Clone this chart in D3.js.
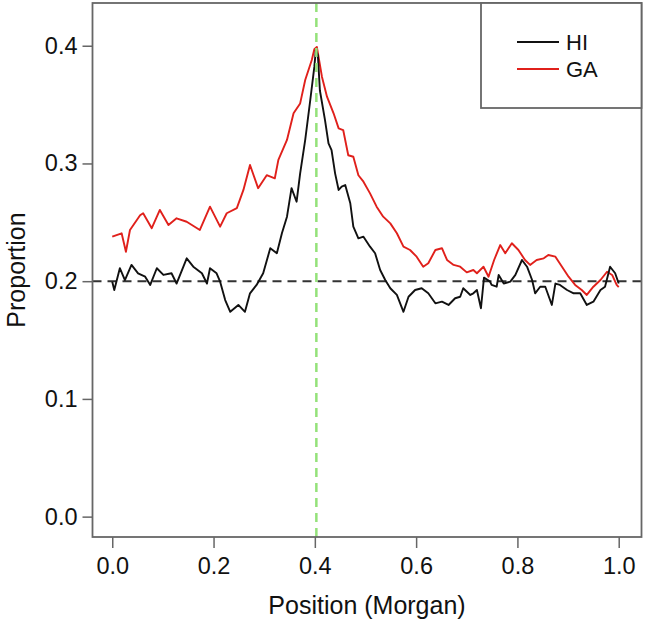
<!DOCTYPE html>
<html>
<head>
<meta charset="utf-8">
<script src="https://cdn.jsdelivr.net/npm/d3@7"></script>
<style>
  body { margin: 0; background: #fff; }
  svg text { font-family: "Liberation Sans", Arial, sans-serif; fill: #111; }
</style>
</head>
<body>
<div id="chart"></div>
<script>
// HI series (position in Morgan, proportion)
const hiPos = [0.000, 0.004, 0.015, 0.025, 0.038, 0.051, 0.065, 0.075, 0.088, 0.101,
    0.117, 0.127, 0.147, 0.160, 0.177, 0.187, 0.193, 0.206, 0.213, 0.223,
    0.233, 0.249, 0.262, 0.272, 0.285, 0.298, 0.312, 0.325, 0.335, 0.345,
    0.354, 0.364, 0.371, 0.381, 0.391, 0.399, 0.402, 0.406, 0.410, 0.420,
    0.427, 0.433, 0.440, 0.447, 0.453, 0.460, 0.470, 0.476, 0.486, 0.496,
    0.509, 0.519, 0.529, 0.539, 0.549, 0.562, 0.575, 0.585, 0.598, 0.611,
    0.624, 0.638, 0.651, 0.664, 0.677, 0.687, 0.693, 0.707, 0.713, 0.720,
    0.728, 0.734, 0.746, 0.749, 0.759, 0.763, 0.773, 0.786, 0.796, 0.809,
    0.819, 0.829, 0.835, 0.845, 0.855, 0.868, 0.875, 0.884, 0.898, 0.911,
    0.924, 0.937, 0.950, 0.964, 0.973, 0.983, 0.993, 1.000];
const hiVal = [0.1996, 0.1925, 0.211, 0.201, 0.2138, 0.2067, 0.2038, 0.1968, 0.211, 0.2053,
    0.2067, 0.198, 0.2194, 0.2123, 0.2067, 0.198, 0.211, 0.2067, 0.1996, 0.184,
    0.174, 0.1798, 0.174, 0.1897, 0.1968, 0.2067, 0.228, 0.2237, 0.2407, 0.2548,
    0.279, 0.2675, 0.2916, 0.320, 0.3539, 0.382, 0.3963, 0.392, 0.362, 0.337,
    0.317, 0.3114, 0.2916, 0.2775, 0.2803, 0.2817, 0.2662, 0.2463, 0.2364, 0.2378,
    0.2293, 0.2237, 0.2095, 0.201, 0.194, 0.1883, 0.174, 0.1868, 0.1925, 0.194,
    0.1897, 0.1812, 0.1826, 0.1798, 0.1855, 0.1868, 0.194, 0.1883, 0.1897, 0.1925,
    0.177, 0.203, 0.1996, 0.1968, 0.1953, 0.2053, 0.198, 0.1996, 0.2053, 0.218,
    0.2123, 0.201, 0.1897, 0.1953, 0.1953, 0.1798, 0.198, 0.1968, 0.1925, 0.1897,
    0.1897, 0.1798, 0.1826, 0.1925, 0.1953, 0.2123, 0.2067, 0.198];

// GA series
const gaPos = [0.000, 0.0185, 0.027, 0.035, 0.055, 0.061, 0.078, 0.094, 0.111, 0.127,
    0.147, 0.173, 0.193, 0.213, 0.226, 0.246, 0.259, 0.272, 0.288, 0.305,
    0.321, 0.328, 0.345, 0.358, 0.371, 0.381, 0.394, 0.399, 0.404, 0.414,
    0.424, 0.437, 0.447, 0.456, 0.466, 0.476, 0.486, 0.496, 0.509, 0.522,
    0.535, 0.549, 0.562, 0.575, 0.588, 0.601, 0.614, 0.624, 0.638, 0.651,
    0.661, 0.674, 0.687, 0.700, 0.713, 0.720, 0.733, 0.743, 0.754, 0.766,
    0.776, 0.789, 0.802, 0.815, 0.825, 0.838, 0.852, 0.861, 0.875, 0.888,
    0.901, 0.914, 0.927, 0.937, 0.950, 0.964, 0.977, 0.987, 0.996, 1.000];
const gaVal = [0.2378, 0.2407, 0.225, 0.2435, 0.256, 0.2577, 0.245, 0.2605, 0.2477, 0.2534,
    0.2505, 0.2435, 0.2633, 0.2463, 0.2577, 0.262, 0.2775, 0.2987, 0.279, 0.290,
    0.2874, 0.303, 0.320, 0.3426, 0.351, 0.3709, 0.3879, 0.397, 0.399, 0.3737,
    0.3567, 0.3426, 0.3298, 0.3284, 0.307, 0.3057, 0.290, 0.2845, 0.2746, 0.2633,
    0.2548, 0.2491, 0.2407, 0.2293, 0.2265, 0.2208, 0.2123, 0.2152, 0.2265, 0.228,
    0.218, 0.2138, 0.2123, 0.2075, 0.2095, 0.2067, 0.2123, 0.2038, 0.218, 0.2307,
    0.2237, 0.2322, 0.2265, 0.218, 0.2138, 0.218, 0.2194, 0.2222, 0.2208, 0.2123,
    0.2038, 0.1968, 0.1925, 0.1883, 0.1953, 0.201, 0.208, 0.2053, 0.1968, 0.195];

const xTicks = [0, 0.2, 0.4, 0.6, 0.8, 1.0];
const yTicks = [0, 0.1, 0.2, 0.3, 0.4];
const seriesNames = ["HI", "GA"];
const seriesColors = ["#111111", "#e0201b"];
const baseline = 0.2;
const peakPos = 0.403;

const width = 645, height = 622;
const box = { left: 92.5, right: 641.5, top: 3, bottom: 537 };

let svg = d3.select("#chart").append("svg")
    .attr("width", width)
    .attr("height", height);

let x = d3.scaleLinear().domain([-0.039, 1.045]).range([box.left, box.right]);
let y = d3.scaleLinear().domain([-0.0173, 0.4363]).range([box.bottom, box.top]);

// axes, R style: ticks outside, no domain line
let xAxis = svg.append("g")
    .attr("transform", `translate(0,${box.bottom})`)
    .call(d3.axisBottom(x).tickValues(xTicks).tickSize(11).tickPadding(9).tickFormat(d3.format(".1f")));
let yAxis = svg.append("g")
    .attr("transform", `translate(${box.left},0)`)
    .call(d3.axisLeft(y).tickValues(yTicks).tickSize(10).tickPadding(5).tickFormat(d3.format(".1f")));

[xAxis, yAxis].forEach(g => {
    g.select(".domain").remove();
    g.selectAll(".tick line").attr("stroke", "#666").attr("stroke-width", 1.5);
    g.selectAll(".tick text").attr("font-size", 23.5).attr("fill", "#111");
});

// reference lines
svg.append("line")
    .attr("x1", box.left).attr("x2", box.right)
    .attr("y1", y(baseline)).attr("y2", y(baseline))
    .attr("stroke", "#333").attr("stroke-width", 2)
    .attr("stroke-dasharray", "9,6");

let line = d3.line().x(d => x(d[0])).y(d => y(d[1]));

let series = [
    d3.zip(hiPos, hiVal),
    d3.zip(gaPos, gaVal)
];

// draw GA under HI like the original
svg.append("path")
    .datum(series[1])
    .attr("d", line)
    .attr("fill", "none")
    .attr("stroke", seriesColors[1])
    .attr("stroke-width", 1.9)
    .attr("stroke-linejoin", "round");

svg.append("path")
    .datum(series[0])
    .attr("d", line)
    .attr("fill", "none")
    .attr("stroke", seriesColors[0])
    .attr("stroke-width", 1.9)
    .attr("stroke-linejoin", "round");

svg.append("line")
    .attr("x1", x(peakPos)).attr("x2", x(peakPos))
    .attr("y1", box.top).attr("y2", box.bottom)
    .attr("stroke", "#94e27a").attr("stroke-width", 2.5)
    .attr("stroke-dasharray", "9,6");

// plot box
svg.append("rect")
    .attr("x", box.left).attr("y", box.top)
    .attr("width", box.right - box.left).attr("height", box.bottom - box.top)
    .attr("fill", "none").attr("stroke", "#666").attr("stroke-width", 1.8);

// legend
let legend = svg.append("g");
legend.append("rect")
    .attr("x", 481).attr("y", box.top)
    .attr("width", box.right - 481).attr("height", 105)
    .attr("fill", "#fff").attr("stroke", "#666").attr("stroke-width", 1.8);

seriesNames.forEach((name, i) => {
    let ly = 42 + i * 27;
    legend.append("line")
        .attr("x1", 517).attr("x2", 559)
        .attr("y1", ly).attr("y2", ly)
        .attr("stroke", seriesColors[i]).attr("stroke-width", 1.9);
    legend.append("text")
        .attr("x", 566).attr("y", ly)
        .attr("dy", "0.36em")
        .attr("font-size", 22)
        .text(name);
});

// axis titles
svg.append("text")
    .attr("x", (box.left + box.right) / 2)
    .attr("y", 614)
    .attr("text-anchor", "middle")
    .attr("font-size", 25)
    .text("Position (Morgan)");

svg.append("text")
    .attr("transform", `translate(25,${(box.top + box.bottom) / 2}) rotate(-90)`)
    .attr("text-anchor", "middle")
    .attr("font-size", 25)
    .text("Proportion");
</script>
</body>
</html>
